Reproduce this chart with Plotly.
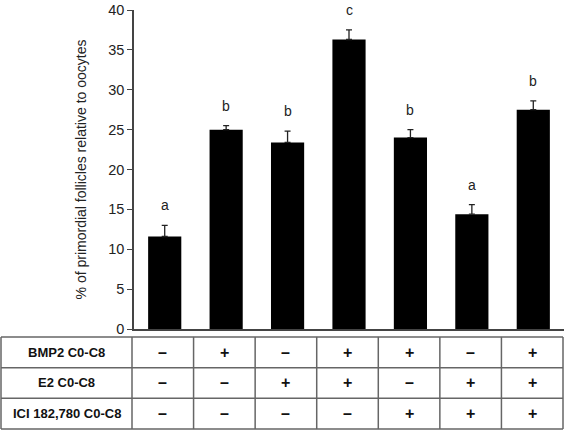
import plotly.graph_objects as go

groups = ["G1", "G2", "G3", "G4", "G5", "G6", "G7"]
values = [11.6, 25.0, 23.4, 36.3, 24.0, 14.4, 27.5]
errors = [1.4, 0.5, 1.4, 1.2, 1.0, 1.2, 1.1]
letters = ["a", "b", "b", "c", "b", "a", "b"]
row_labels = ["BMP2 C0-C8", "E2 C0-C8", "ICI 182,780 C0-C8"]
bmp2 = ["–", "+", "–", "+", "+", "–", "+"]
e2 = ["–", "–", "+", "+", "–", "+", "+"]
ici = ["–", "–", "–", "–", "+", "+", "+"]
y_ticks = [0, 5, 10, 15, 20, 25, 30, 35, 40]

W, H = 566, 432
L, R, T, B = 134, 2, 7, 103
pw = W - L - R
ph = H - T - B

def px_x(p):
    return (p - L) / pw

def px_y(p):
    return (H - B - p) / ph

fig = go.Figure()
fig.add_trace(go.Bar(
    x=list(range(len(groups))), y=values,
    marker=dict(color="black", line=dict(width=0)),
    width=0.54,
    error_y=dict(type="data", array=errors, arrayminus=[0] * len(errors), symmetric=False,
                 color="#222222", thickness=1.3, width=3),
    showlegend=False,
))

annotations = []
for i, (v, e, lt) in enumerate(zip(values, errors, letters)):
    annotations.append(dict(x=i, y=v + e, xref="x", yref="y", text=lt, showarrow=False,
                            yanchor="bottom", yshift=10,
                            font=dict(family="Liberation Sans, Arial", size=14, color="#222")))

# table geometry
tab_top, tab_bot = 337, 430
row_h = (tab_bot - tab_top) / 3
left_edge, first_col = 1, 132
right_edge = 563
ncol = len(groups)
col_w = (right_edge - first_col) / ncol
shapes = []
line = dict(color="#666666", width=1.5)
for k in range(4):
    yy = tab_top + k * row_h
    shapes.append(dict(type="line", xref="paper", yref="paper", x0=px_x(left_edge), x1=px_x(right_edge),
                       y0=px_y(yy), y1=px_y(yy), line=line))
for xx in [left_edge, first_col] + [first_col + (j + 1) * col_w for j in range(ncol)]:
    shapes.append(dict(type="line", xref="paper", yref="paper", x0=px_x(xx), x1=px_x(xx),
                       y0=px_y(tab_top), y1=px_y(tab_bot), line=line))

rows = [bmp2, e2, ici]
for r, (lab, vals) in enumerate(zip(row_labels, rows)):
    yc = px_y(tab_top + (r + 0.5) * row_h)
    annotations.append(dict(x=px_x((left_edge + first_col) / 2), y=yc, xref="paper", yref="paper",
                            text="<b>%s</b>" % lab, showarrow=False, xanchor="center", yanchor="middle",
                            font=dict(family="Liberation Sans, Arial", size=13, color="#111")))
    for j, s in enumerate(vals):
        annotations.append(dict(x=px_x(first_col + (j + 0.5) * col_w), y=yc, xref="paper", yref="paper",
                                text="<b>%s</b>" % s, showarrow=False, xanchor="center", yanchor="middle",
                                font=dict(family="Liberation Sans, Arial", size=16, color="#111")))

fig.update_layout(
    width=W, height=H,
    margin=dict(l=L, r=R, t=T, b=B, pad=0),
    paper_bgcolor="white", plot_bgcolor="white",
    xaxis=dict(range=[-0.5, 6.5], showticklabels=False, ticks="", showgrid=False, zeroline=False,
               showline=True, linecolor="#444444", linewidth=1.5),
    yaxis=dict(range=[0, 40], tickvals=y_ticks, ticks="outside", ticklen=5, tickcolor="#444444",
               tickwidth=1.3, showgrid=False, zeroline=False, showline=True, linecolor="#444444",
               linewidth=1.5, ticklabeloverflow="allow",
               tickfont=dict(family="Liberation Sans, Arial", size=14.5, color="#222"),
               title=dict(text="% of primordial follicles relative to oocytes", standoff=18,
                          font=dict(family="Liberation Sans, Arial", size=14, color="#222"))),
    shapes=shapes,
    annotations=annotations,
)

fig.write_html("out.html", config={"displayModeBar": False},
               post_script="document.body.style.margin='0';document.body.style.overflow='hidden';")
